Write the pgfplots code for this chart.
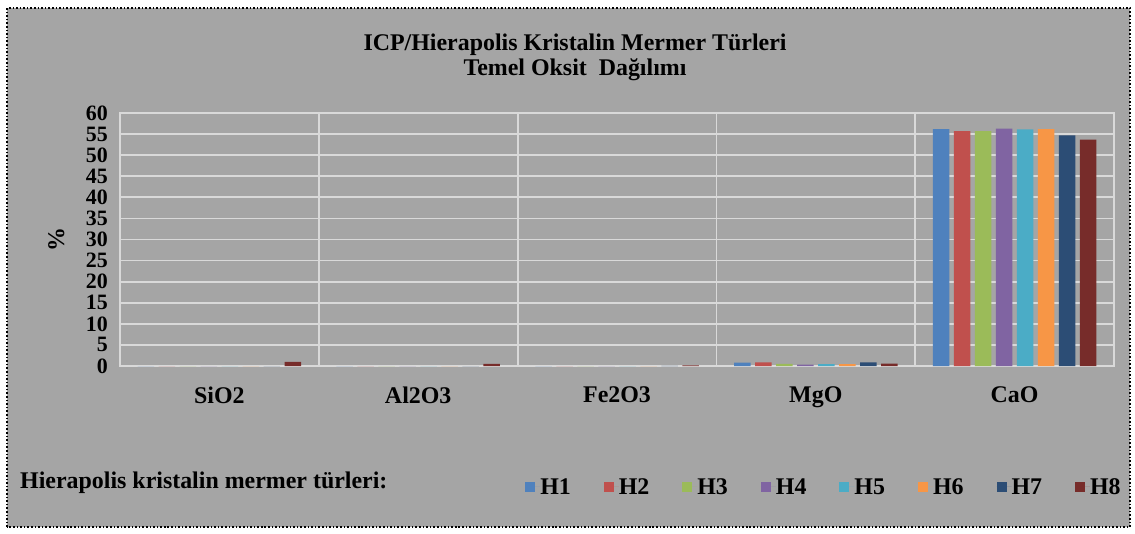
\documentclass[border=0pt]{standalone}
\usepackage{pgfplots}
\pgfplotsset{compat=1.18}
\usepackage{pgfplotstable}
\usepackage{fontspec}
\setmainfont{Liberation Serif}

\definecolor{bg}{HTML}{A5A5A5}
\definecolor{gridc}{HTML}{D9D9D9}
\definecolor{hA}{HTML}{4F81BD}
\definecolor{hB}{HTML}{C0504D}
\definecolor{hC}{HTML}{9BBB59}
\definecolor{hD}{HTML}{8064A2}
\definecolor{hE}{HTML}{4BACC6}
\definecolor{hF}{HTML}{F79646}
\definecolor{hG}{HTML}{2C4D75}
\definecolor{hH}{HTML}{772C2A}

% oxide, values per sample H1..H8 (%)
\pgfplotstableread{
x  H1   H2   H3   H4   H5   H6   H7   H8
0  0    0    0    0    0    0    0    1.0
1  0    0    0    0    0    0    0    0.5
2  0    0    0    0    0    0    0.05 0.15
3  0.8  0.85 0.5  0.35 0.45 0.45 0.85 0.55
4  56.2 55.7 55.7 56.3 56.1 56.2 54.7 53.7
}\oxides

\newcommand{\chartfont}{\fontsize{24}{26}\selectfont\bfseries}
\newcommand{\tickfont}{\fontsize{22}{24}\selectfont\bfseries}

\begin{document}
\begin{tikzpicture}
\path (-120bp,-168bp) rectangle (1015bp,366bp);
\fill[bg] (-113bp,-161bp) rectangle (1010bp,358bp);
\draw[black, line width=1.6bp, dotted] (-113bp,-161bp) rectangle (1010bp,358bp);

\node[font=\chartfont] at (455bp,321bp) {ICP/Hierapolis Kristalin Mermer Türleri};
\node[font=\chartfont] at (455bp,296bp) {Temel Oksit\ \ Dağılımı};
\node[font=\chartfont, anchor=west, inner sep=0pt] at (-100bp,-117bp) {Hierapolis kristalin mermer türleri:};

\begin{axis}[
    at={(0,0)}, anchor=south west,
    scale only axis, width=994bp, height=253bp,
    ybar=4.5bp, bar width=16.5bp,
    xmin=-0.5, xmax=4.5, ymin=0, ymax=60,
    xtick={0,1,2,3,4},
    xticklabels={SiO2,Al2O3,Fe2O3,MgO,CaO},
    minor xtick={0.5,1.5,2.5,3.5},
    ytick={0,5,...,60},
    ymajorgrids, xminorgrids,
    major grid style={gridc, line width=1.8bp},
    minor grid style={gridc, line width=1.8bp},
    axis line style={gridc, line width=1.8bp},
    major tick length=0pt, minor tick length=0pt,
    xticklabel style={font=\chartfont, yshift=-17bp},
    yticklabel style={font=\tickfont, xshift=-11bp, inner sep=1pt},
    /pgf/number format/assume math mode=true,
    ylabel={\%}, ylabel style={font=\chartfont, at={(-52bp,126bp)}},
    legend columns=8,
    legend style={draw=none, fill=none, font=\chartfont, inner sep=0pt,
        at={(0.4075,-0.478)}, anchor=west,
        nodes={inner sep=0pt},
        /tikz/every odd column/.append style={column sep=0bp},
        /tikz/every even column/.append style={column sep=33bp}},
    legend image code/.code={\fill[#1] (0bp,-5bp) rectangle (10bp,5bp);
        \path (0bp,0bp) -- (15bp,0bp);},
]
\addplot[fill=hA, draw=none] table[x=x, y=H1] {\oxides};
\addplot[fill=hB, draw=none] table[x=x, y=H2] {\oxides};
\addplot[fill=hC, draw=none] table[x=x, y=H3] {\oxides};
\addplot[fill=hD, draw=none] table[x=x, y=H4] {\oxides};
\addplot[fill=hE, draw=none] table[x=x, y=H5] {\oxides};
\addplot[fill=hF, draw=none] table[x=x, y=H6] {\oxides};
\addplot[fill=hG, draw=none] table[x=x, y=H7] {\oxides};
\addplot[fill=hH, draw=none] table[x=x, y=H8] {\oxides};
\legend{H1,H2,H3,H4,H5,H6,H7,H8}
\end{axis}
\end{tikzpicture}
\end{document}
